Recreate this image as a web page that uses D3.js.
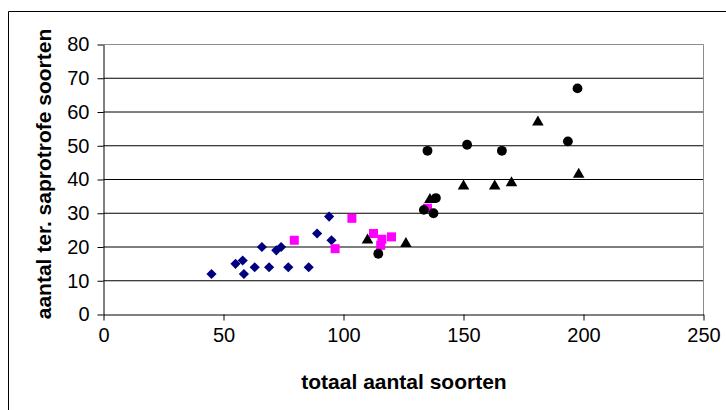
<!DOCTYPE html>
<html>
<head>
<meta charset="utf-8">
<script src="https://d3js.org/d3.v7.min.js"></script>
<style>
    body { margin: 0; background: #fff; }
    text { font-family: "Liberation Sans", Arial, sans-serif; }
</style>
</head>
<body>
<div id="scatter"></div>
<script>
var outerWidth = 726,
    outerHeight = 410
var margin = { top: 44.5, right: 22.5, bottom: 95.5, left: 103.5 }
var innerWidth = outerWidth - margin.left - margin.right
var innerHeight = outerHeight - margin.top - margin.bottom

var xTicks = [0, 50, 100, 150, 200, 250]
var yTicks = [0, 10, 20, 30, 40, 50, 60, 70, 80]

// diamonds (navy)
var diamondX = [45, 55, 58, 58.5, 63, 66, 69, 72, 74, 77, 85.5, 89, 94, 95]
var diamondY = [12, 15, 16, 12, 14, 20, 14, 19, 20, 14, 14, 24, 29, 22]
// squares (magenta)
var squareX = [79.5, 96.5, 103.5, 112.5, 116, 120, 115.5, 135]
var squareY = [22, 19.5, 28.5, 24, 22.3, 23, 20.5, 31.5]
// triangles (black)
var triangleX = [110, 126, 136, 150, 163, 170, 181, 198]
var triangleY = [22, 21, 34, 38, 38, 39, 57, 41.5]
// circles (black)
var circleX = [114.5, 133.5, 137.5, 138.5, 135, 151.5, 166, 193.5, 197.5]
var circleY = [18, 31, 30, 34.5, 48.5, 50.3, 48.5, 51.3, 67]

var xTitle = "totaal aantal soorten"
var yTitle = "aantal ter. saprotrofe soorten"

function pairs(xs, ys) {
    return xs.map(function(x, i) { return { x: x, y: ys[i] } })
}

var svg = d3.select("#scatter")
    .append("svg")
    .attr("width", outerWidth)
    .attr("height", outerHeight)
    .style("display", "block")

svg.append("rect")
    .attr("width", outerWidth)
    .attr("height", outerHeight)
    .attr("fill", "#fff")

// chart border: only top and left are inside the picture
svg.append("path")
    .attr("d", "M8.5," + outerHeight + "V11.5H" + outerWidth)
    .attr("fill", "none")
    .attr("stroke", "#000")

var xScale = d3.scaleLinear().domain([0, 250]).range([0, innerWidth])
var yScale = d3.scaleLinear().domain([0, 80]).range([innerHeight, 0])

var plot = svg.append("g")
    .attr("transform", "translate(" + margin.left + "," + margin.top + ")")

// grid lines
plot.selectAll(".grid")
    .data(yTicks.filter(function(d) { return d > 0 && d < 80 }))
    .enter().append("line")
    .attr("x1", 0)
    .attr("x2", innerWidth)
    .attr("y1", function(d) { return yScale(d) })
    .attr("y2", function(d) { return yScale(d) })
    .attr("stroke", "#000")

// plot border top/right (gray)
plot.append("path")
    .attr("d", "M0," + yScale(80) + "H" + xScale(250) + "V" + yScale(0))
    .attr("fill", "none")
    .attr("stroke", "#8c8c8c")

var xAxis = plot.append("g")
    .attr("transform", "translate(0," + innerHeight + ")")
    .call(d3.axisBottom(xScale).tickValues(xTicks).tickSize(6).tickPadding(7).tickSizeOuter(0))
xAxis.select(".domain").attr("stroke", "#000")
xAxis.selectAll("text").attr("font-size", "20px").attr("fill", "#000")
    .style("font-family", "'Liberation Sans', Arial, sans-serif")

var yAxis = plot.append("g")
    .call(d3.axisLeft(yScale).tickValues(yTicks).tickSize(6).tickPadding(8).tickSizeOuter(0))
yAxis.select(".domain").attr("stroke", "#000")
yAxis.selectAll("text").attr("font-size", "20px").attr("fill", "#000")
    .style("font-family", "'Liberation Sans', Arial, sans-serif")

// markers
function drawSeries(data, type, size, color, rotate) {
    plot.append("g")
        .selectAll("path")
        .data(data)
        .enter().append("path")
        .attr("d", d3.symbol().type(type).size(size))
        .attr("transform", function(d) {
            return "translate(" + xScale(d.x) + "," + yScale(d.y) + ")" + (rotate ? " rotate(45)" : "")
        })
        .attr("fill", color)
}

drawSeries(pairs(diamondX, diamondY), d3.symbolSquare, 52, "#000080", true)
drawSeries(pairs(squareX, squareY), d3.symbolSquare, 81, "#ff00ff", false)
drawSeries(pairs(triangleX, triangleY), d3.symbolTriangle, 58, "#000", false)
drawSeries(pairs(circleX, circleY), d3.symbolCircle, 76, "#000", false)

// axis titles
svg.append("text")
    .attr("x", 404)
    .attr("y", 389)
    .attr("text-anchor", "middle")
    .attr("font-size", "21px")
    .attr("font-weight", "bold")
    .text(xTitle)

svg.append("text")
    .attr("transform", "translate(51,174) rotate(-90)")
    .attr("text-anchor", "middle")
    .attr("font-size", "21px")
    .attr("font-weight", "bold")
    .text(yTitle)
</script>
</body>
</html>
